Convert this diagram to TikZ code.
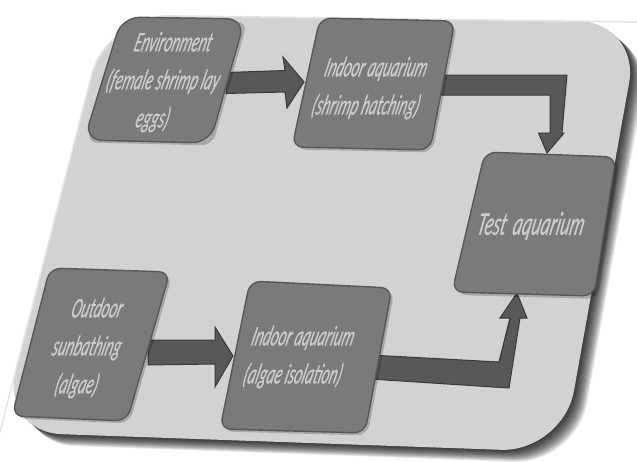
\documentclass[tikz,border=0pt]{standalone}
\usepackage{fontspec}
\setmainfont{Carlito}
\newfontfamily\thickfont{Carlito}[FakeBold=0.6]
\usetikzlibrary{calc}
\definecolor{panelfill}{HTML}{D2D2D2}
\definecolor{panelhi}{HTML}{E4E4E4}
\definecolor{boxfill}{HTML}{7A7A7A}
\definecolor{boxline}{HTML}{585858}
\definecolor{txt}{HTML}{CDCDCD}
\definecolor{arrfill}{HTML}{585858}
\definecolor{arrline}{HTML}{383838}
\tikzset{
  boxshape/.style={fill=boxfill, draw=boxline, line width=1.4pt, rounded corners=11pt},
  boxshadow/.style={fill=black, opacity=0.2, rounded corners=11pt},
  boxtext/.style={text=txt, font=\thickfont\itshape\fontsize{15}{20}\selectfont, align=center,
    xslant=0.27, yscale=1.9, transform shape, inner sep=0pt},
  bigtext/.style={text=txt, font=\thickfont\itshape\fontsize{18}{22}\selectfont, align=center,
    xslant=0.22, yscale=1.85, transform shape, inner sep=0pt},
  blockarrow/.style={fill=arrfill, draw=arrline, line width=1pt, line join=miter},
}
\begin{document}
\begin{tikzpicture}[x=1pt,y=-1pt]
\useasboundingbox (0,0) rectangle (637,461);
\fill[white] (0,0) rectangle (637,461);
% panel shadow
\foreach \i in {1,...,14} {
  \fill[black, opacity=0.09, rounded corners=62pt, shift={(\i*0.95,\i*0.85)}]
    (107,15) -- (640,22) -- (563,452) -- (0,432) -- cycle;
}
% panel
\fill[panelfill, rounded corners=62pt] (107,15) -- (640,22) -- (563,452) -- (0,432) -- cycle;
\draw[panelhi, line width=1.5pt, rounded corners=62pt] (0,432) -- (107,15) -- (640,22);

% arrow anchor coordinates
\coordinate (a1s) at (226,83);
\coordinate (a1e) at (304,82);
\coordinate (a2s) at (430,85);
\coordinate (a2e) at (547,153);
\coordinate (a3s) at (148,352);
\coordinate (a3e) at (233,356);
\coordinate (a4s) at (370,367);
\coordinate (a4e) at (517,293);

% arrows (under the boxes)
\draw[blockarrow] ($(a1s)+(0,-10.5)$) -- ($(a1e)+(-19,-11.5)$) -- ($(a1e)+(-21,-25)$) -- (a1e)
  -- ($(a1e)+(-17,26)$) -- ($(a1e)+(-19,10)$) -- ($(a1s)+(0,10.5)$) -- cycle;
\draw[blockarrow] ($(a2s)+(0,-10)$) -- ($(a2e)+(20,-78)$) -- ($(a2e)+(15,-20)$) -- ($(a2e)+(17,-20)$)
  -- (a2e) -- ($(a2e)+(-8.5,-20)$) -- ($(a2e)+(3,-20)$) -- ($(a2e)+(3,-58)$) -- ($(a2s)+(0,10)$) -- cycle;
\draw[blockarrow] ($(a3s)+(0,-12)$) -- ($(a3e)+(-18,-16)$) -- ($(a3e)+(-18,-29)$) -- (a3e)
  -- ($(a3e)+(-18,31)$) -- ($(a3e)+(-18,8)$) -- ($(a3s)+(0,13)$) -- cycle;
\draw[blockarrow] ($(a4s)+(0,-12)$) -- ($(a4e)+(-18,69)$) -- ($(a4e)+(-7,25)$) -- ($(a4e)+(-17,25)$)
  -- (a4e) -- ($(a4e)+(10,25)$) -- ($(a4e)+(3,25)$) -- ($(a4e)+(-8,95)$) -- ($(a4s)+(0,12)$) -- cycle;

% box shadows
\fill[boxshadow, shift={(2.5,2.5)}] (122,17) -- (245,19) -- (210,143) -- (84,140) -- cycle;
\fill[boxshadow, shift={(2.5,2.5)}] (320,18) -- (455,21) -- (430,150) -- (292,147) -- cycle;
\fill[boxshadow, shift={(4,3)}] (485,152) -- (616,157) -- (594,296) -- (452,292) -- cycle;
\fill[boxshadow, shift={(2.5,2.5)}] (50,268) -- (170,272) -- (127,421) -- (12,416) -- cycle;
\fill[boxshadow, shift={(2.5,2.5)}] (250,281) -- (392,288) -- (365,433) -- (220,429) -- cycle;

% boxes
\draw[boxshape, rounded corners=18pt] (122,17) -- (245,19) -- (210,143) -- (84,140) -- cycle;
\draw[boxshape] (320,18) -- (455,21) -- (430,150) -- (292,147) -- cycle;
\draw[boxshape] (485,152) -- (616,157) -- (594,296) -- (452,292) -- cycle;
\draw[boxshape] (50,268) -- (170,272) -- (127,421) -- (12,416) -- cycle;
\draw[boxshape] (250,281) -- (392,288) -- (365,433) -- (220,429) -- cycle;

% texts
\node[boxtext] (env) at (163,82) {Environment\\(female shrimp lay\\eggs)};
\node[boxtext] (hatch) at (371,88) {Indoor aquarium\\(shrimp hatching)};
\node[bigtext] (test) at (531,226) {Test\, aquarium};
\node[boxtext] (sun) at (87,348) {Outdoor\\sunbathing\\(algae)};
\node[boxtext] (iso) at (298,357) {Indoor aquarium\\(algae isolation)};
\end{tikzpicture}
\end{document}
